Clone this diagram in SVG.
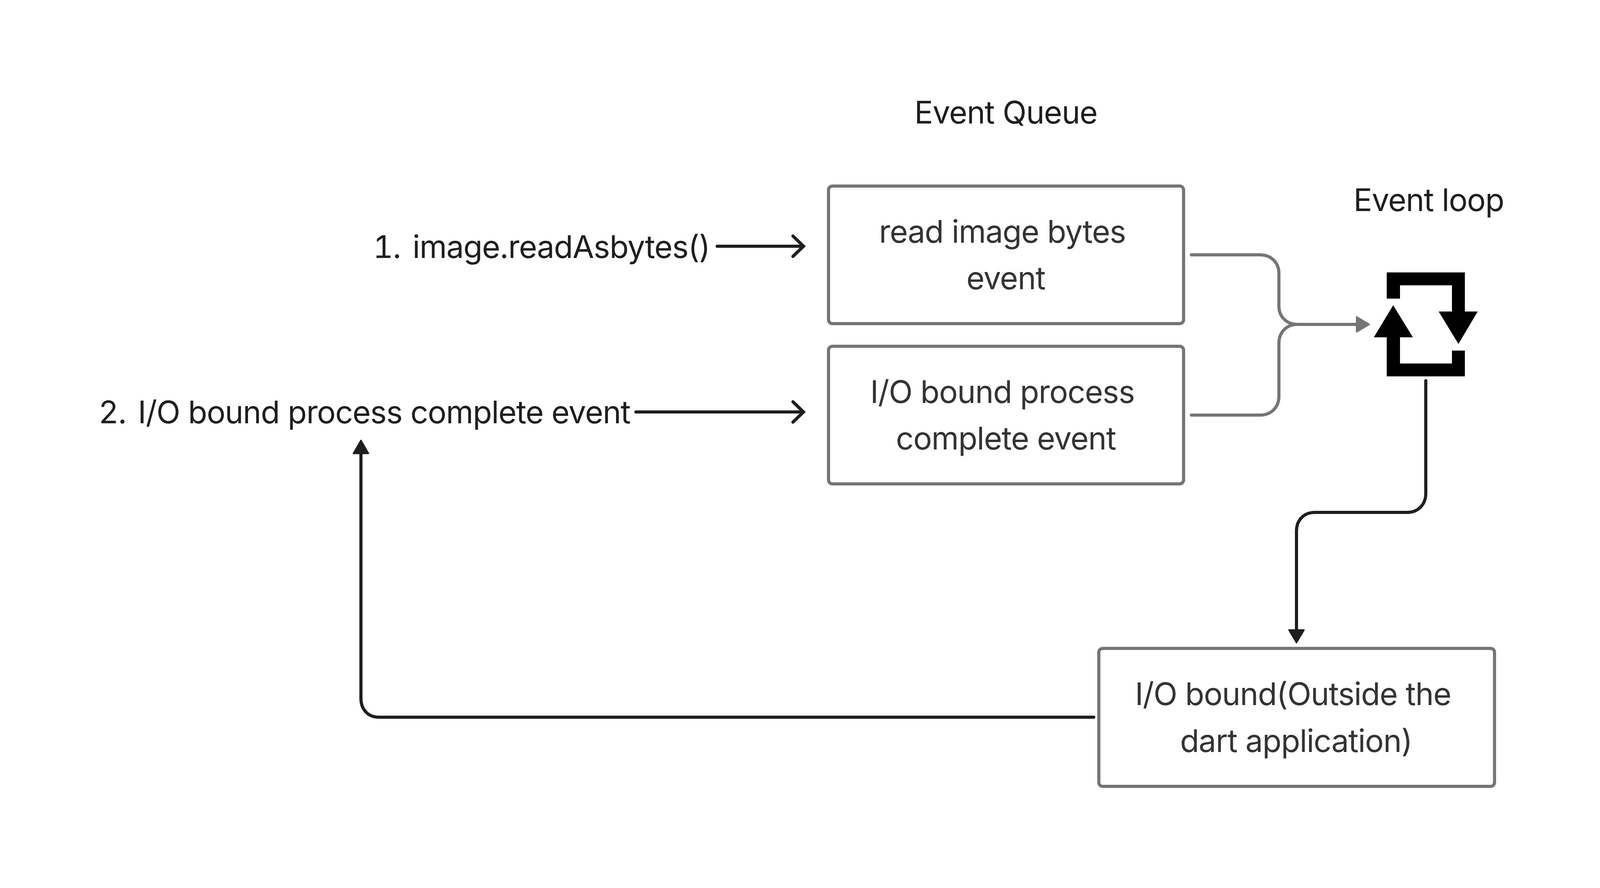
<svg xmlns="http://www.w3.org/2000/svg" width="4104" height="2272" viewBox="0 0 4104 2272">
<style>
text{font-family:Inter,"Liberation Sans",sans-serif;font-size:80px;letter-spacing:-1.35px}
.n{font-variant-numeric:tabular-nums;font-feature-settings:"tnum"}
.d{fill:#1e1e1e}
.b{fill:#333}
.m{text-anchor:middle}
.box{fill:#fff;stroke:#757575;stroke-width:8}
.g,.k{fill:none;stroke-width:8;stroke-linecap:round}
.g{stroke:#757575}
.k{stroke:#1e1e1e}
.h{fill:#1e1e1e;stroke:#1e1e1e;stroke-width:4;stroke-linejoin:round}
</style>
<rect width="4104" height="2272" fill="#fff"/>
<g id="connectors">
<path class="k" d="M1836 630H2057M2030 604L2057 630L2030 656"/>
<path class="k" d="M1628 1054H2057M2030 1028L2057 1054L2030 1080"/>
<path class="g" d="M3050 652H3226C3254 652 3274 672 3274 699V784C3274 810 3294 830 3321 830H3474M3050 1062H3226C3254 1062 3274 1042 3274 1014V878C3274 850 3294 830 3321 830"/>
<path d="M3473 811L3505 830L3473 849Z" fill="#757575" stroke="#757575" stroke-width="4" stroke-linejoin="round"/>
<path class="k" d="M3650 974V1263C3650 1291 3630 1311 3603 1311H3366C3338 1311 3319 1331 3319 1358V1612"/>
<path class="h" d="M3300 1612H3338L3319 1644Z"/>
<path class="k" d="M2800 1835H970C942 1835 924 1815 924 1787V1160"/>
<path class="h" d="M905 1160H943L924 1127Z"/>
</g>
<g id="title-queue"><text class="d m" x="2575" y="316">Event Queue</text></g>
<g id="title-loop"><text class="d" x="3465" y="540">Event loop</text></g>
<g id="label-1"><text class="d n" x="955" y="660">1.</text><text class="d" x="1056" y="660">image.readAsbytes()</text></g>
<g id="label-2"><text class="d n" x="252" y="1083">2.</text><text class="d" x="353" y="1083">I/O bound process complete event</text></g>
<g id="node-read"><rect class="box" x="2121" y="476" width="909" height="352" rx="10"/><text class="b m" x="2566" y="621">read image bytes</text><text class="b m" x="2575" y="740">event</text></g>
<g id="node-io"><rect class="box" x="2121" y="886" width="909" height="352" rx="10"/><text class="b m" x="2566" y="1031">I/O bound process</text><text class="b m" x="2575" y="1150">complete event</text></g>
<g id="node-outside"><rect class="box" x="2813" y="1659" width="1013" height="353" rx="10"/><text class="b m" x="3310" y="1804">I/O bound(Outside the</text><text class="b m" x="3318" y="1924">dart application)</text></g>
<g id="loop-icon"><path d="M3550 764V697H3750V797H3783L3733.500 880L3683 797H3717V730H3584V764ZM3750 897V963H3550V863H3517L3566.500 781L3617 863H3584V930H3717V897Z" fill="#000"/></g>
</svg>
